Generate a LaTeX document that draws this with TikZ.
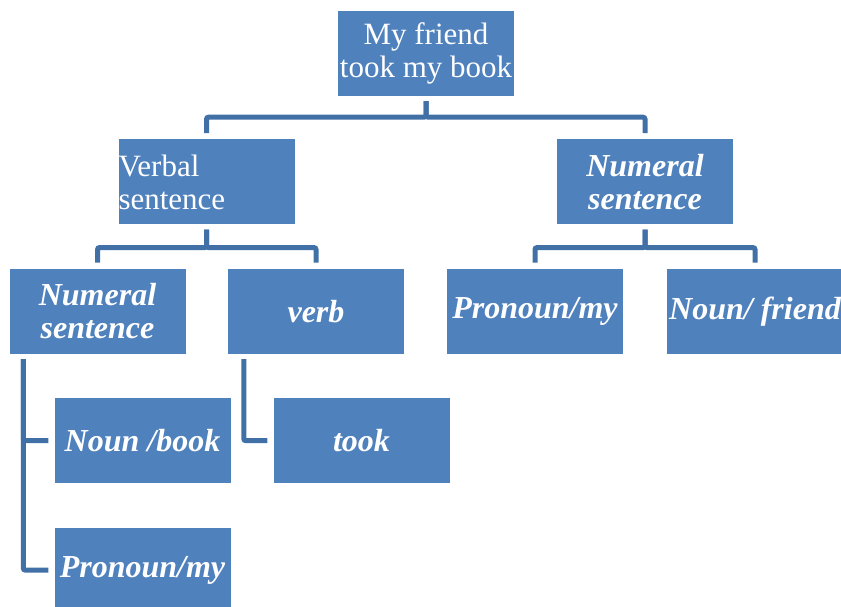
\documentclass[tikz,border=0pt]{standalone}
\usepackage{fontspec}
\setmainfont{Liberation Serif}
\usepackage{tikz}
\usetikzlibrary{positioning}

\definecolor{boxblue}{RGB}{79,129,189}
\definecolor{linkblue}{RGB}{65,112,167}

\tikzset{
	box/.style={rectangle, fill=boxblue, text=white, inner sep=0pt,
		minimum width=176pt, minimum height=85pt,
		align=center, font=\fontsize{31}{33}\selectfont},
	bbox/.style={box, font=\fontsize{32}{33}\selectfont\bfseries\itshape},
	link/.style={draw=linkblue, line width=5pt, rounded corners=2pt,
		shorten <=5pt, shorten >=6pt},
}

\begin{document}
\begin{tikzpicture}[x=1pt, y=-1pt, node distance=44pt]
	\useasboundingbox (0,0) rectangle (841,606);
	
	\node[box] (top) at (426,53.5) {My friend\\took my book};
	\node[box, text width=176pt, align=left, below=43pt of top, xshift=-219.5pt] (verbal) {Verbal\\sentence};
	\node[bbox, below=43pt of top, xshift=219pt] (numR) {Numeral\\sentence};
	
	\node[bbox, below=of verbal, xshift=-109pt] (numL) {Numeral\\sentence};
	\node[bbox, below=of verbal, xshift=109.5pt] (verb) {verb};
	\node[bbox, below=of numR, xshift=-110pt] (pronR) {Pronoun/my};
	\node[bbox, below=of numR, xshift=110pt] (nounR) {Noun/ friend};
	
	\node[bbox, below=of numL, xshift=45pt] (book) {Noun /book};
	\node[bbox, below=of verb, xshift=45.5pt] (took) {took};
	\node[bbox, below=of book] (pronL) {Pronoun/my};
	
	% tree links
	\draw[link] (top.south) -- ++(0,21) -| (verbal.north);
	\draw[link] (top.south) -- ++(0,21) -| (numR.north);
	\draw[link] (verbal.south) -- ++(0,23) -| (numL.north);
	\draw[link] (verbal.south) -- ++(0,23) -| (verb.north);
	\draw[link] (numR.south) -- ++(0,23) -| (pronR.north);
	\draw[link] (numR.south) -- ++(0,23) -| (nounR.north);
	
	% side links
	\draw[link] ([xshift=14pt]numL.south west) |- (book.west);
	\draw[link] ([xshift=14pt]numL.south west) |- (pronL.west);
	\draw[link] ([xshift=16pt]verb.south west) |- (took.west);
\end{tikzpicture}
\end{document}
